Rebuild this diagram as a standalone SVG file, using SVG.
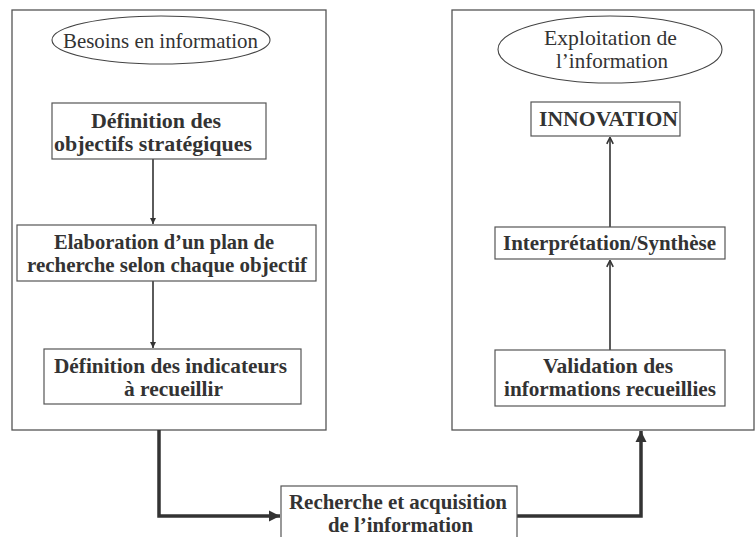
<svg xmlns="http://www.w3.org/2000/svg" width="755" height="537" viewBox="0 0 755 537">
<defs>
<style>
.panel{fill:none;stroke:#555;stroke-width:1.3}
.box{fill:#fff;stroke:#555;stroke-width:1.2}
.ell{fill:#fff;stroke:#444;stroke-width:1.1}
.t{font-family:"Liberation Serif","DejaVu Serif",serif;font-size:21px;fill:#333;text-anchor:middle}
.b{font-weight:bold}
.thin{fill:none;stroke:#333;stroke-width:1.6}
.thick{fill:none;stroke:#333;stroke-width:3.5}
</style>
<marker id="tri" viewBox="0 0 10 10" refX="10" refY="5" markerWidth="4" markerHeight="4" orient="auto"><path d="M0,0 L10,5 L0,10 z" fill="#333"/></marker>
<marker id="chev" viewBox="0 0 10 10" refX="9" refY="5" markerWidth="5" markerHeight="5" orient="auto" markerUnits="strokeWidth"><path d="M1,1 L9,5 L1,9" fill="none" stroke="#333" stroke-width="2"/></marker>
<marker id="big" viewBox="0 0 10 10" refX="10" refY="5" markerWidth="3.2" markerHeight="3.2" orient="auto"><path d="M0,0 L10,5 L0,10 z" fill="#333"/></marker>
</defs>
<rect width="755" height="537" fill="#fff"/>
<g id="panel-left"><rect class="panel" x="12" y="10" width="314" height="420"/></g>
<g id="panel-right"><rect class="panel" x="452" y="10" width="302" height="420"/></g>
<g id="connectors">
<line class="thin" x1="153" y1="159" x2="153" y2="224" marker-end="url(#tri)"/>
<line class="thin" x1="153" y1="281" x2="153" y2="348" marker-end="url(#tri)"/>
<line class="thin" x1="610" y1="227" x2="610" y2="137.5" marker-end="url(#chev)"/>
<line class="thin" x1="610" y1="350" x2="610" y2="260.5" marker-end="url(#chev)"/>
<polyline class="thick" points="159,430 159,516 280,516" marker-end="url(#big)"/>
<polyline class="thick" points="517,516 641,516 641,431" marker-end="url(#big)"/>
</g>
<g id="besoins">
<ellipse class="ell" cx="161" cy="40" rx="109" ry="24"/>
<text class="t" x="160.5" y="48" textLength="195" lengthAdjust="spacingAndGlyphs">Besoins en information</text>
</g>
<g id="definition-objectifs">
<rect class="box" x="52" y="103" width="214" height="56"/>
<text class="t b" x="156" y="128" textLength="130" lengthAdjust="spacingAndGlyphs">Définition des</text>
<text class="t b" x="153" y="151" textLength="198" lengthAdjust="spacingAndGlyphs">objectifs stratégiques</text>
</g>
<g id="elaboration">
<rect class="box" x="17" y="225" width="299" height="56"/>
<text class="t b" x="164" y="249" textLength="220" lengthAdjust="spacingAndGlyphs">Elaboration d’un plan de</text>
<text class="t b" x="167" y="272" textLength="280" lengthAdjust="spacingAndGlyphs">recherche selon chaque objectif</text>
</g>
<g id="indicateurs">
<rect class="box" x="44" y="349" width="257" height="55"/>
<text class="t b" x="170.5" y="373" textLength="233" lengthAdjust="spacingAndGlyphs">Définition des indicateurs</text>
<text class="t b" x="173.5" y="396" textLength="99" lengthAdjust="spacingAndGlyphs">à recueillir</text>
</g>
<g id="exploitation">
<ellipse class="ell" cx="610" cy="49.5" rx="112" ry="33.5"/>
<text class="t" x="610.5" y="45" textLength="133" lengthAdjust="spacingAndGlyphs">Exploitation de</text>
<text class="t" x="612" y="68" textLength="112" lengthAdjust="spacingAndGlyphs">l’information</text>
</g>
<g id="innovation">
<rect class="box" x="531" y="102" width="149" height="34"/>
<text class="t b" x="608.5" y="126" textLength="139" lengthAdjust="spacingAndGlyphs">INNOVATION</text>
</g>
<g id="interpretation">
<rect class="box" x="495" y="227" width="230" height="32"/>
<text class="t b" x="609.5" y="250" textLength="213" lengthAdjust="spacingAndGlyphs">Interprétation/Synthèse</text>
</g>
<g id="validation">
<rect class="box" x="495" y="350" width="230" height="56"/>
<text class="t b" x="608" y="373" textLength="130" lengthAdjust="spacingAndGlyphs">Validation des</text>
<text class="t b" x="610" y="396" textLength="212" lengthAdjust="spacingAndGlyphs">informations recueillies</text>
</g>
<g id="recherche">
<rect class="box" x="281" y="486" width="236" height="60"/>
<text class="t b" x="398" y="509" textLength="218" lengthAdjust="spacingAndGlyphs">Recherche et acquisition</text>
<text class="t b" x="400.5" y="532" textLength="145" lengthAdjust="spacingAndGlyphs">de l’information</text>
</g>
</svg>
